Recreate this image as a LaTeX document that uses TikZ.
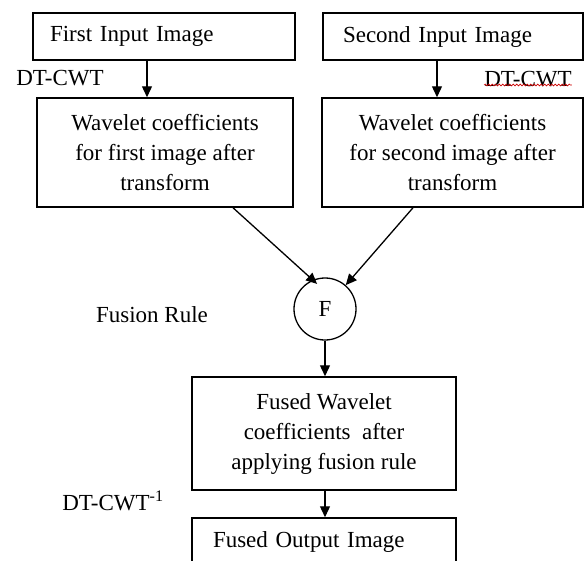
\documentclass[tikz,border=0pt]{standalone}
\usepackage{fontspec}
\setmainfont{Liberation Serif}
\usetikzlibrary{arrows.meta,decorations.pathmorphing}
\begin{document}
\begin{tikzpicture}[x=1pt,y=-1pt,
  every node/.style={font=\fontsize{23}{30}\selectfont, text=black},
  box/.style={draw=black, line width=1.5pt, inner ysep=0pt},
  leftbox/.style={box, align=left},
  midbox/.style={box, align=center},
  conn/.style={line width=1.3pt, -{Triangle[length=11pt,width=10pt]}},
  lbl/.style={inner sep=0pt}]
\clip (0,0) rectangle (588,560);
\fill[white] (0,0) rectangle (588,560);

% input images
\node[leftbox, inner xsep=17pt, text width=228pt, minimum height=47pt] (in1) at (164,36.5) {First Input Image};
\node[leftbox, inner xsep=20pt, text width=220pt, minimum height=47pt] (in2) at (453,36.5) {Second Input Image};

% wavelet coefficients after the forward transform
\node[midbox, minimum width=256pt, minimum height=109pt] (wc1) at (165,152.5)
  {Wavelet coefficients\\for first image after\\transform};
\node[midbox, minimum width=261pt, minimum height=109pt] (wc2) at (452.5,152.5)
  {Wavelet coefficients\\for second image after\\transform};

% fusion operator
\node[draw=black, line width=1.3pt, circle, minimum size=62pt, inner sep=0pt] (F) at (325,309) {F};

% fused coefficients and output
\node[midbox, minimum width=264pt, minimum height=113pt] (fw) at (324,433.5)
  {Fused Wavelet\\coefficients\ \ after\\applying fusion rule};
\node[leftbox, inner xsep=21pt, text width=222pt, minimum height=48pt] (out) at (324,542) {Fused Output Image};

% labels
\node[lbl] (dtl) at (60,78) {DT-CWT};
\node[lbl] (dtr) at (528,79) {DT-CWT};
\draw[red!80!black, line width=0.6pt, decorate, decoration={snake, amplitude=0.9pt, segment length=3.5pt}]
  ([yshift=2pt]dtr.south west) -- ([yshift=2pt]dtr.south east);
\node[lbl] (rule) at (152,315) {Fusion Rule};
\node[lbl] (inv) at (113,501) {DT-CWT\textsuperscript{-1}};

% connectors
\coordinate (x1) at (147,0);
\coordinate (x2) at (437,0);
\coordinate (x3) at (233,0);
\coordinate (x4) at (413,0);
\draw[conn] (x1 |- in1.south) -- (x1 |- wc1.north);
\draw[conn] (x2 |- in2.south) -- (x2 |- wc2.north);
\draw[conn, shorten >=-6pt] (x3 |- wc1.south) -- (F.113);
\draw[conn] (x4 |- wc2.south) -- (F);
\draw[conn] (F.south) -- (F.south |- fw.north);
\draw[conn] (F.south |- fw.south) -- (F.south |- out.north);
\end{tikzpicture}
\end{document}
